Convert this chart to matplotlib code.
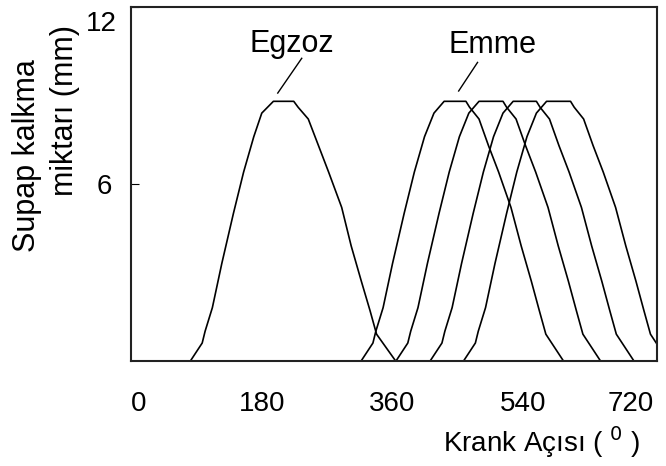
import matplotlib
matplotlib.use('Agg')
import matplotlib.pyplot as plt
from matplotlib.transforms import ScaledTranslation

plt.rcParams['font.family'] = ['Liberation Sans', 'DejaVu Sans']

# valve lift profile (mm), same sample points for every curve
lift = [0, 0.6, 1.0, 1.8, 3.3, 5.0, 6.4, 7.6, 8.4, 8.8, 8.8,
        8.6, 8.2, 7.3, 6.4, 5.2, 3.9, 2.7, 1.7, 0.9, 0]

# crank angle (deg) read for each curve
exhaust = [82, 98, 102, 112, 125, 141, 155, 169, 180, 196, 224,
           230, 244, 258, 272, 290, 303, 317, 329, 338, 364]
intake_1 = [317, 333, 337, 347, 360, 376, 390, 404, 417, 431, 461,
            466, 479, 492, 506, 523, 537, 551, 562, 571, 595]
intake_2 = [365, 381, 385, 395, 408, 424, 438, 452, 465, 479, 512,
            517, 530, 543, 557, 574, 588, 602, 613, 622, 646]
intake_3 = [412, 428, 432, 442, 455, 471, 485, 499, 512, 526, 558,
            563, 576, 589, 603, 620, 634, 648, 659, 668, 692]
intake_4 = [458, 474, 478, 488, 501, 517, 531, 545, 558, 572, 605,
            610, 623, 636, 650, 667, 681, 695, 706, 715, 739]

x_ticks = [0, 180, 360, 540, 720]
y_ticks = [6, 12]

fig = plt.figure(figsize=(6.66, 4.66), dpi=100)
ax = fig.add_axes([131 / 666, 1 - 360.7 / 466, 526 / 666, 353.7 / 466])

for angles in [exhaust, intake_1, intake_2, intake_3, intake_4]:
    ax.plot(angles, lift, color='black', linewidth=1.2)

# labels with leader lines
ax.text(221, 10.76, 'Egzoz', ha='center', va='center', fontsize=22)
ax.plot([202, 235], [9.08, 10.26], color='black', linewidth=1)
ax.text(498, 10.7, 'Emme', ha='center', va='center', fontsize=22)
ax.plot([451, 477], [9.15, 10.12], color='black', linewidth=1)

ax.set_xlim(2, 724)
ax.set_ylim(0, 12)

for s in ax.spines.values():
    s.set_linewidth(1.5)
    s.set_color('#222222')

ax.set_xticks(x_ticks)
ax.set_xticks([180, 540], minor=True)
ax.tick_params(axis='x', which='major', length=0, pad=22, labelsize=20)
ax.tick_params(axis='x', which='minor', length=3, direction='out')
xl = ax.get_xticklabels()
xl[0].set_ha('left')
xl[-1].set_ha('right')

ax.set_yticks(y_ticks)
ax.tick_params(axis='y', direction='in', length=6, pad=14, labelsize=20)
top = ax.get_yticklabels()[1]
top.set_transform(top.get_transform() + ScaledTranslation(0.05, -0.14, fig.dpi_scale_trans))

ax.set_xlabel('Krank Açısı ( $^{0}$ )', fontsize=20, ha='right')
ax.xaxis.set_label_coords(0.968, -0.18)

fig.text(27 / 666, 1 - 156 / 466, 'Supap kalkma', rotation=90,
         ha='center', va='center', fontsize=22)
fig.text(65 / 666, 1 - 110 / 466, 'miktarı (mm)', rotation=90,
         ha='center', va='center', fontsize=22)

fig.savefig('out.png', dpi=100)
